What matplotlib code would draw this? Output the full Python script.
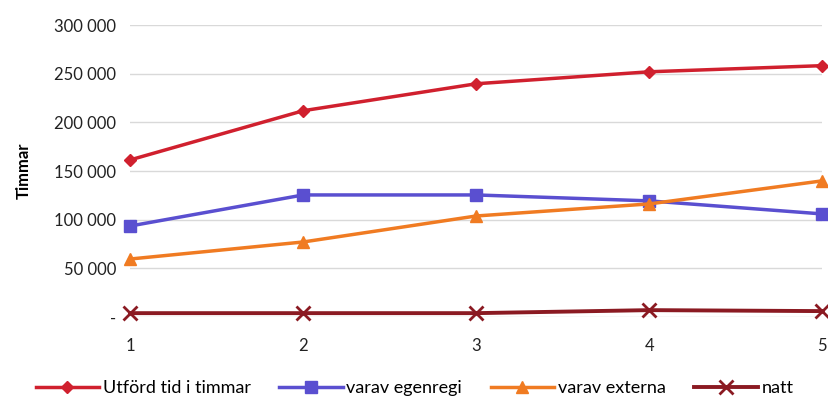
import matplotlib
matplotlib.use('Agg')
import matplotlib.pyplot as plt
from matplotlib.ticker import FuncFormatter

# data
x = [1, 2, 3, 4, 5]
utford = [161500, 212000, 239700, 252000, 258300]
egenregi = [93600, 125500, 125500, 119400, 106000]
externa = [59700, 77200, 103900, 116300, 140000]
natt = [4100, 4100, 4100, 7200, 6200]

plt.rcParams['font.family'] = ['Lato', 'DejaVu Sans']

fig = plt.figure(figsize=(8.29, 4.04), dpi=100)
ax = fig.add_axes([0.157, 0.215, 0.835, 0.723])

ax.plot(x, utford, color='#d0202e', lw=2.5, marker='D', ms=6,
        label='Utförd tid i timmar', clip_on=False, zorder=5)
ax.plot(x, egenregi, color='#5a4fd0', lw=2.5, marker='s', ms=8,
        label='varav egenregi', clip_on=False, zorder=4)
ax.plot(x, externa, color='#f07b22', lw=2.5, marker='^', ms=8,
        label='varav externa', clip_on=False, zorder=4)
ax.plot(x, natt, color='#8b1a22', lw=2.8, marker='x', ms=10, mew=2,
        label='natt', clip_on=False, zorder=4)

ax.set_xlim(1, 5)
ax.set_ylim(0, 300000)
ax.set_xticks(x)
ax.set_yticks(range(0, 300001, 50000))


def fmt(v, pos):
    if v == 0:
        return '-'
    return '{:,}'.format(int(v)).replace(',', ' ')


ax.yaxis.set_major_formatter(FuncFormatter(fmt))
ax.grid(axis='y', color='#d9d9d9', lw=1)
ax.set_axisbelow(True)
for s in ax.spines.values():
    s.set_visible(False)
ax.tick_params(length=0, labelsize=12, colors='#222222', pad=10)
ax.tick_params(axis='x', pad=15)
ax.set_ylabel('Timmar', fontsize=12, fontweight='bold', labelpad=16)

fig.legend(loc='lower center', ncol=4, frameon=False, fontsize=13,
           handlelength=3.5, columnspacing=1.6, handletextpad=0.2,
           bbox_to_anchor=(0.5, -0.02))

fig.savefig('out.png', dpi=100)
